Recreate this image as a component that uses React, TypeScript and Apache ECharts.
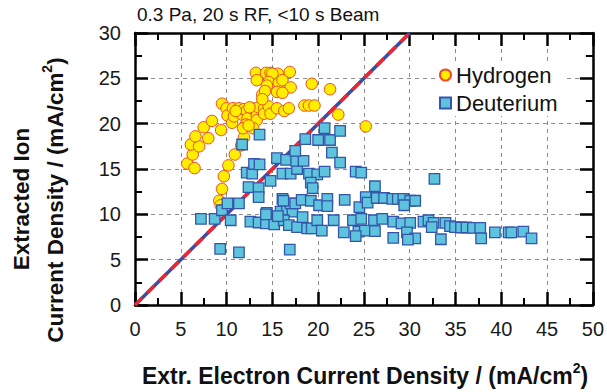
import React, { useEffect, useRef } from "react";
import * as echarts from "echarts";

// Extracted ion current density vs. extracted electron current density
const hydrogen: [number, number][] = [
  [5.7, 15.6], [6.5, 15.1], [6.3, 16.6], [6.1, 17.7], [7.0, 17.5], [6.6, 18.6], [8.0, 18.4],
  [7.5, 19.6], [8.4, 20.3], [9.4, 19.3], [9.5, 22.2],
  [10.0, 21.7], [10.1, 20.9], [10.6, 20.1], [10.7, 21.7], [10.8, 20.8], [11.35, 21.7], [11.7, 21.0],
  [11.9, 21.6], [12.2, 21.4], [12.3, 20.6], [12.1, 19.9], [12.8, 21.7], [13.3, 20.9], [13.3, 20.4],
  [13.5, 21.8], [14.1, 21.7], [14.1, 21.1], [14.6, 21.9], [14.8, 21.1], [15.5, 21.7], [16.3, 21.4],
  [16.8, 21.7], [12.5, 21.8], [11.0, 21.4],
  [13.2, 25.6], [14.3, 25.6], [14.8, 25.6], [15.6, 25.5], [16.9, 25.7], [15.0, 25.5], [13.3, 24.8],
  [14.6, 24.6], [15.7, 24.5], [16.1, 24.8], [14.4, 24.2], [17.0, 24.0], [13.9, 23.2], [14.2, 23.6],
  [15.5, 23.5], [16.1, 23.4], [13.9, 22.7],
  [18.5, 22.0], [19.0, 22.0], [19.6, 22.0], [19.3, 24.4], [21.3, 23.8], [22.2, 21.0], [25.2, 19.7],
  [10.9, 16.6], [10.2, 15.4], [9.7, 14.2], [9.5, 12.8], [9.2, 11.5], [9.35, 11.0], [11.9, 18.5],
  [11.6, 17.6], [12.9, 19.5], [11.8, 19.5], [12.4, 19.8],
];

const deuterium: [number, number][] = [
  [7.2, 9.5], [8.7, 9.5], [9.5, 10.45], [10.1, 11.2], [10.45, 9.35], [11.35, 11.2], [9.3, 6.2],
  [11.35, 5.8], [16.9, 6.1],
  [11.7, 17.7], [13.6, 18.8],
  [12.2, 14.6], [12.8, 14.5], [13.0, 15.55], [13.6, 15.5], [12.4, 13.0], [13.5, 12.9], [13.5, 11.9],
  [14.8, 13.7],
  [15.5, 16.2], [16.5, 16.0], [16.1, 14.5], [17.0, 14.5], [17.7, 15.0], [17.6, 15.9], [18.4, 15.9],
  [17.5, 17.0], [18.6, 18.3], [20.0, 18.2], [21.3, 18.2], [20.7, 19.5], [22.4, 19.2], [21.5, 16.8],
  [22.4, 15.7], [19.0, 14.5], [19.9, 14.4], [19.2, 13.5], [19.4, 12.9], [20.7, 14.7], [24.1, 14.7],
  [24.7, 14.6], [26.2, 13.1],
  [14.4, 10.15], [15.9, 10.3], [16.6, 10.45], [17.2, 10.3], [16.1, 11.7], [17.0, 11.2], [17.5, 11.2],
  [18.2, 11.6], [19.2, 11.5], [20.1, 11.0], [21.0, 11.7], [21.0, 10.9], [22.9, 11.6], [24.5, 10.8],
  [25.2, 11.9], [25.4, 11.3], [26.4, 11.8], [27.2, 11.8], [28.1, 11.7], [28.7, 11.7], [29.3, 11.7],
  [30.05, 11.5], [30.6, 11.5], [29.4, 11.0],
  [12.6, 9.2], [13.5, 9.1], [14.3, 9.0], [15.2, 8.9], [16.25, 9.35], [16.8, 8.8], [17.7, 8.6],
  [18.3, 9.7], [18.8, 8.45], [19.3, 8.45], [19.9, 9.35], [20.4, 8.2], [21.7, 9.35], [22.8, 8.0],
  [23.8, 9.35], [24.4, 8.1], [24.7, 9.5], [25.1, 8.2], [24.1, 7.6], [26.1, 9.35], [26.2, 8.15],
  [27.0, 9.5], [28.2, 9.2], [28.2, 7.4], [29.1, 9.0], [30.05, 9.05], [29.7, 8.0], [30.6, 7.35],
  [29.8, 7.2],
  [31.5, 9.2], [32.05, 9.35], [32.6, 9.05], [32.4, 8.6], [33.4, 7.25], [33.9, 9.05], [34.4, 8.7],
  [34.95, 8.6], [35.6, 8.55], [36.2, 8.55], [36.9, 8.5], [37.7, 8.5], [37.8, 7.35], [39.3, 8.0],
  [40.8, 8.0], [41.1, 8.0], [42.4, 8.1], [43.3, 7.35], [32.7, 13.9],
  [15.6, 9.8], [16.2, 11.5], [14.3, 10.0],
];

// y = x reference line
const unityLine: [number, number][] = [[0, 0], [30, 30]];

const seriesNames = ["Hydrogen", "Deuterium"];
const titleText = "0.3 Pa, 20 s RF, <10 s Beam";
const xTitle = "Extr. Electron Current Density / (mA/cm";
const yTitleTop = "Extracted Ion";
const yTitleBottom = "Current Density / (mA/cm";

const FONT = '"Liberation Sans", Arial, Helvetica, sans-serif';

function frameAxis(min: number, max: number, position: string, labels: boolean, grid: boolean, margin: number) {
  return {
    type: "value",
    min,
    max,
    interval: 5,
    position,
    axisLine: { show: true, onZero: false, lineStyle: { color: "#000", width: 2.5 } },
    axisTick: { show: true, inside: true, length: 13, lineStyle: { color: "#000", width: 2.5 } },
    minorTick: { show: true, splitNumber: 2, length: 7, lineStyle: { color: "#000", width: 2 } },
    splitLine: { show: grid, lineStyle: { color: "#8c8c8c", width: 1, type: [4, 4] } },
    axisLabel: { show: labels, fontSize: 20, color: "#1a1a1a", fontFamily: FONT, margin },
  };
}

export default function App() {
  const ref = useRef<HTMLDivElement>(null);

  useEffect(() => {
    if (!ref.current) return;
    const chart = echarts.init(ref.current, null, { renderer: "svg" });

    const boldRich = (size: number) => ({
      b: { fontSize: size, fontWeight: "bold", fontFamily: FONT, fill: "#111", lineHeight: 30 },
      s: { fontSize: 14, fontWeight: "bold", fontFamily: FONT, fill: "#111", verticalAlign: "top", lineHeight: 30 },
    });

    chart.setOption({
      animation: false,
      backgroundColor: "#fff",
      grid: { left: 135, right: 12, top: 33, bottom: 87, containLabel: false },
      xAxis: [frameAxis(0, 50, "bottom", true, true, 14), frameAxis(0, 50, "top", false, false, 14)],
      yAxis: [frameAxis(0, 30, "left", true, true, 14), frameAxis(0, 30, "right", false, false, 14)],
      legend: {
        data: seriesNames,
        orient: "vertical",
        left: 437,
        top: 62,
        itemWidth: 11,
        itemHeight: 11,
        itemGap: 6,
        backgroundColor: "#fff",
        padding: [2, 8, 2, 2],
        textStyle: { fontSize: 22, fontFamily: FONT, color: "#111", lineHeight: 22 },
      },
      graphic: [
        {
          type: "text",
          left: 137,
          top: 5,
          style: { text: titleText, font: `19px ${FONT}`, fill: "#111" },
        },
        {
          type: "text",
          x: 365,
          y: 376,
          style: {
            text: `{b|${xTitle}}{s|2}{b|)}`,
            align: "center",
            verticalAlign: "middle",
            rich: boldRich(23),
          },
        },
        {
          type: "text",
          x: 21,
          y: 199,
          rotation: Math.PI / 2,
          style: {
            text: `{b|${yTitleTop}}`,
            align: "center",
            verticalAlign: "middle",
            rich: boldRich(22.5),
          },
        },
        {
          type: "text",
          x: 55,
          y: 200,
          rotation: Math.PI / 2,
          style: {
            text: `{b|${yTitleBottom}}{s|2}{b|)}`,
            align: "center",
            verticalAlign: "middle",
            rich: boldRich(22.5),
          },
        },
      ],
      series: [
        {
          type: "line",
          data: unityLine,
          symbol: "none",
          silent: true,
          z: 2,
          lineStyle: { color: "#3a4ca8", width: 3.5 },
        },
        {
          type: "line",
          data: unityLine,
          symbol: "none",
          silent: true,
          z: 3,
          lineStyle: { color: "#ee2630", width: 3.5, type: [10, 7] },
        },
        {
          name: seriesNames[0],
          type: "scatter",
          data: hydrogen,
          symbol: "circle",
          symbolSize: 11.5,
          z: 4,
          itemStyle: { color: "#ffee00", borderColor: "#ee4a25", borderWidth: 1, opacity: 1 },
        },
        {
          name: seriesNames[1],
          type: "scatter",
          data: deuterium,
          symbol: "rect",
          symbolSize: 10.5,
          z: 5,
          itemStyle: { color: "#5ec3dc", borderColor: "#3555aa", borderWidth: 1.3, opacity: 1 },
        },
      ],
    });

    return () => chart.dispose();
  }, []);

  return (
    <div
      ref={ref}
      style={{ position: "fixed", left: 0, top: 0, width: 607, height: 392, background: "#fff" }}
    />
  );
}
